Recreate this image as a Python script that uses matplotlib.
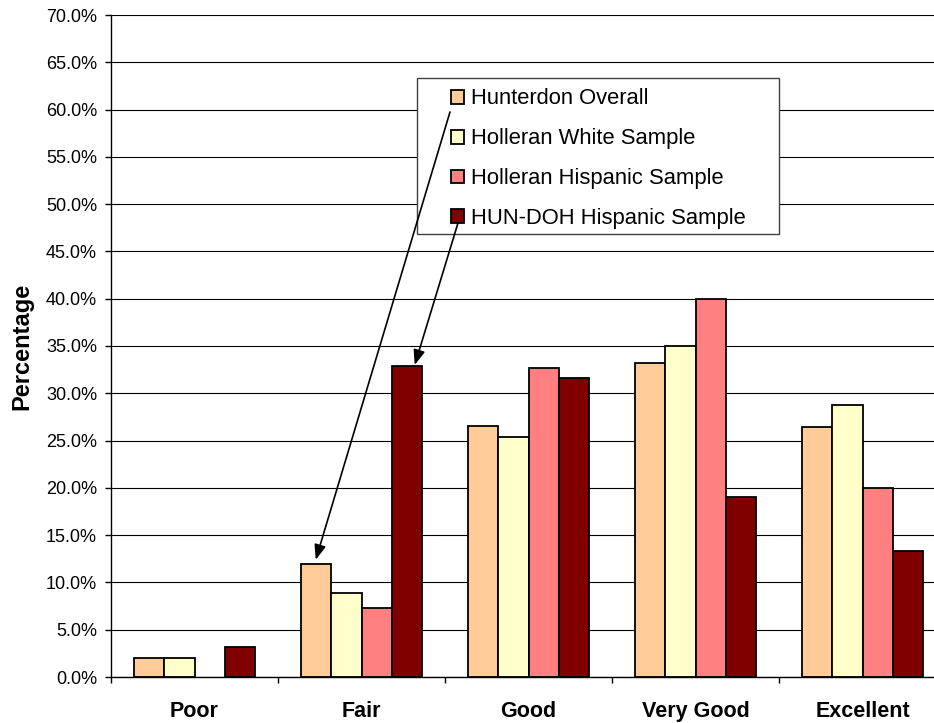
import numpy as np
import matplotlib
matplotlib.use("Agg")
import matplotlib.pyplot as plt
from matplotlib.patches import Rectangle

categories = ["Poor", "Fair", "Good", "Very Good", "Excellent"]
series_names = ["Hunterdon Overall", "Holleran White Sample",
                "Holleran Hispanic Sample", "HUN-DOH Hispanic Sample"]
hunterdon_overall = [2.0, 11.9, 26.5, 33.2, 26.4]
holleran_white = [2.0, 8.9, 25.4, 35.0, 28.8]
holleran_hispanic = [np.nan, 7.3, 32.7, 40.0, 20.0]
hundoh_hispanic = [3.2, 32.9, 31.6, 19.0, 13.3]
yticks = [0, 5, 10, 15, 20, 25, 30, 35, 40, 45, 50, 55, 60, 65, 70]

series = [hunterdon_overall, holleran_white, holleran_hispanic, hundoh_hispanic]
colors = ["#FFCC99", "#FFFFCC", "#FF8080", "#800000"]

plt.rcParams['font.family'] = ['Liberation Sans', 'DejaVu Sans']

W, H = 934, 723
fig = plt.figure(figsize=(W / 100, H / 100), dpi=100)
left_px, right_px, top_px, bot_px = 111, 946, 15, 677
ax = fig.add_axes([left_px / W, 1 - bot_px / H, (right_px - left_px) / W, (bot_px - top_px) / H])

x = np.arange(len(categories))
w = 0.1826
for i, (vals, c, name) in enumerate(zip(series, colors, series_names)):
    ax.bar(x + (i - 1.5) * w, vals, w, color=c, edgecolor="black",
           linewidth=1.3, label=name, zorder=3)

ax.set_xlim(-0.5, len(categories) - 0.5)
ax.set_ylim(0, 70)
ax.set_yticks(yticks)
ax.set_yticklabels([f"{v:.1f}%" for v in yticks], fontsize=13)
ax.yaxis.grid(True, color="black", linewidth=0.8, zorder=0)
ax.set_axisbelow(True)

ax.set_xticks(np.arange(len(categories) + 1) - 0.5)
ax.set_xticklabels([])
ax.set_xticks(x, minor=True)
ax.set_xticklabels(categories, minor=True, fontsize=15.5, fontweight="bold")
ax.tick_params(axis="x", which="minor", length=0, pad=17)
ax.tick_params(axis="x", which="major", length=4, direction="out", width=1)
ax.tick_params(axis="y", length=4, direction="out", width=1, pad=6)

for s in ["top", "right"]:
    ax.spines[s].set_visible(False)
for s in ["left", "bottom"]:
    ax.spines[s].set_linewidth(1.0)
    ax.spines[s].set_zorder(4)

ax.set_ylabel("Percentage", fontsize=17, fontweight="bold")
ax.yaxis.set_label_coords(-0.093, 0.5)

# legend frame (pixel box from top-left, converted to figure fraction)
fx0, fy0, fx1, fy1 = 417, 78, 779, 234
frame = Rectangle((fx0 / W, 1 - fy1 / H), (fx1 - fx0) / W, (fy1 - fy0) / H,
                  transform=fig.transFigure, facecolor="white",
                  edgecolor="#404040", linewidth=1.0, zorder=5, clip_on=False)
ax.add_patch(frame)

leg = ax.legend(loc="upper left", bbox_to_anchor=(451 / W, 1 - 88.5 / H),
                bbox_transform=fig.transFigure, fontsize=15.8, frameon=False,
                handlelength=0.6, handleheight=0.6, handletextpad=0.32,
                labelspacing=0.86, borderpad=0, borderaxespad=0)
leg.set_zorder(6)

# arrows from legend markers to Fair bars
fair = categories.index("Fair")
arrowprops = dict(arrowstyle="-|>,head_length=0.9,head_width=0.35",
                  color="black", lw=1.2, shrinkA=0, shrinkB=0)
a1 = ax.annotate("", xy=(fair - 1.5 * w, hunterdon_overall[fair] + 0.5), xycoords="data",
                 xytext=(450 / W, 1 - 112 / H), textcoords="figure fraction",
                 arrowprops=arrowprops, annotation_clip=False)
a2 = ax.annotate("", xy=(fair + 1.5 * w + 0.045, hundoh_hispanic[fair] + 0.1), xycoords="data",
                 xytext=(458 / W, 1 - 223 / H), textcoords="figure fraction",
                 arrowprops=arrowprops, annotation_clip=False)
a1.set_zorder(7)
a2.set_zorder(7)

fig.savefig("out.png", dpi=100)
